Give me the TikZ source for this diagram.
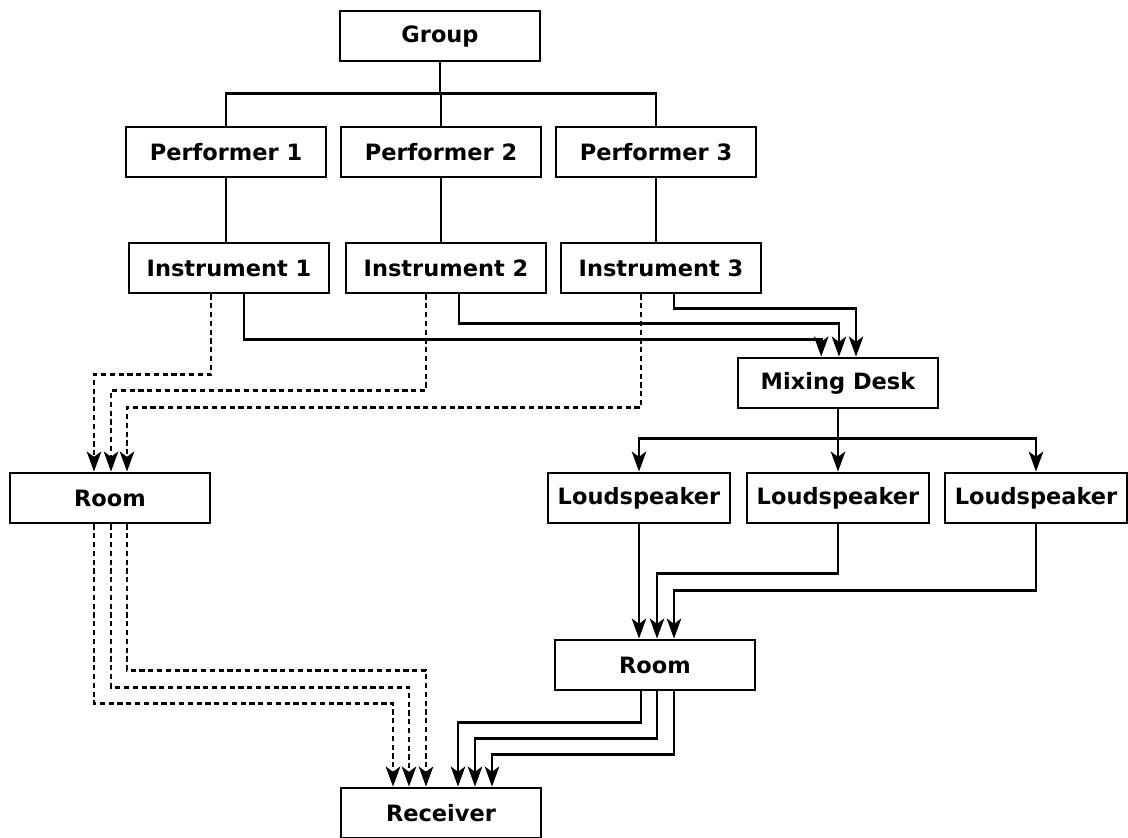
\documentclass[tikz,border=0pt]{standalone}
\usepackage{fontspec}
\setmainfont{DejaVu Sans}
\usetikzlibrary{arrows.meta}

\begin{document}
\begin{tikzpicture}[x=0.25mm, y=-0.25mm, line width=0.07cm,
    block/.style={draw, fill=white, minimum width=5cm, minimum height=1.25cm, inner sep=0.1cm, font=\bfseries\fontsize{16}{18}\selectfont},
    speaker/.style={block, minimum width=4.55cm},
    tip/.style={-{Stealth[length=0.5cm, width=0.36cm, inset=0.13cm]}},
    airpath/.style={tip, dash pattern=on 0.13cm off 0.09cm}]
    \useasboundingbox (0,0) rectangle (1128,837);

    % Draw the blocks
    \node[block] (group) at (440,36) {Group};
    \node[block] (perf1) at (226,152) {Performer 1};
    \node[block] (perf2) at (441,152) {Performer 2};
    \node[block] (perf3) at (656,152) {Performer 3};
    \node[block] (inst1) at (229,268) {Instrument 1};
    \node[block] (inst2) at (446,268) {Instrument 2};
    \node[block] (inst3) at (661,268) {Instrument 3};
    \node[block] (mix) at (838,383) {Mixing Desk};
    \node[block] (roomA) at (110,498) {Room};
    \node[speaker] (ls1) at (639,498) {Loudspeaker};
    \node[speaker] (ls2) at (838,498) {Loudspeaker};
    \node[speaker] (ls3) at (1036,498) {Loudspeaker};
    \node[block] (roomB) at (655,665) {Room};
    \node[block] (recv) at (441,813) {Receiver};

    % Draw the group tree
    \draw (group.south) -- ++(0,31) coordinate (split);
    \draw (split) -| (perf1.north);
    \draw (split) -| (perf2.north);
    \draw (split) -| (perf3.north);
    \draw (perf1.south) -- (perf1.south |- inst1.north);
    \draw (perf2.south) -- (perf2.south |- inst2.north);
    \draw (perf3.south) -- (perf3.south |- inst3.north);

    % Draw the electric paths
    \draw[tip] ([xshift=0.375cm]inst1.south) -- ++(0,45) -| ([xshift=-0.42cm]mix.north);
    \draw[tip] ([xshift=0.325cm]inst2.south) -- ++(0,29) -| ([xshift=0.025cm]mix.north);
    \draw[tip] ([xshift=0.325cm]inst3.south) -- ++(0,14) -| ([xshift=0.45cm]mix.north);
    \draw (mix.south) -- ++(0,29) coordinate (fan);
    \draw[tip] (fan) -| (ls1.north);
    \draw[tip] (fan) -| (ls2.north);
    \draw[tip] (fan) -| (ls3.north);
    \draw[tip] (ls1.south) -- (ls1.south |- roomB.north);
    \draw[tip] (ls2.south) -- ++(0,49) -| ([xshift=0.05cm]roomB.north);
    \draw[tip] (ls3.south) -- ++(0,66) -| ([xshift=0.475cm]roomB.north);
    \draw[tip] ([xshift=-0.35cm]roomB.south) -- ++(0,31) -| ([xshift=0.425cm]recv.north);
    \draw[tip] ([xshift=0.05cm]roomB.south) -- ++(0,47) -| ([xshift=0.85cm]recv.north);
    \draw[tip] ([xshift=0.475cm]roomB.south) -- ++(0,63) -| ([xshift=1.275cm]recv.north);

    % Draw the acoustic paths
    \draw[airpath] ([xshift=-0.45cm]inst1.south) -- ++(0,80) -| ([xshift=-0.4cm]roomA.north);
    \draw[airpath] ([xshift=-0.5cm]inst2.south) -- ++(0,96) -| ([xshift=0.025cm]roomA.north);
    \draw[airpath] ([xshift=-0.5cm]inst3.south) -- ++(0,113) -| ([xshift=0.425cm]roomA.north);
    \draw[airpath] ([xshift=-0.4cm]roomA.south) -- ++(0,179) -| ([xshift=-1.2cm]recv.north);
    \draw[airpath] ([xshift=0.025cm]roomA.south) -- ++(0,163) -| ([xshift=-0.8cm]recv.north);
    \draw[airpath] ([xshift=0.425cm]roomA.south) -- ++(0,146) -| ([xshift=-0.375cm]recv.north);
\end{tikzpicture}
\end{document}
